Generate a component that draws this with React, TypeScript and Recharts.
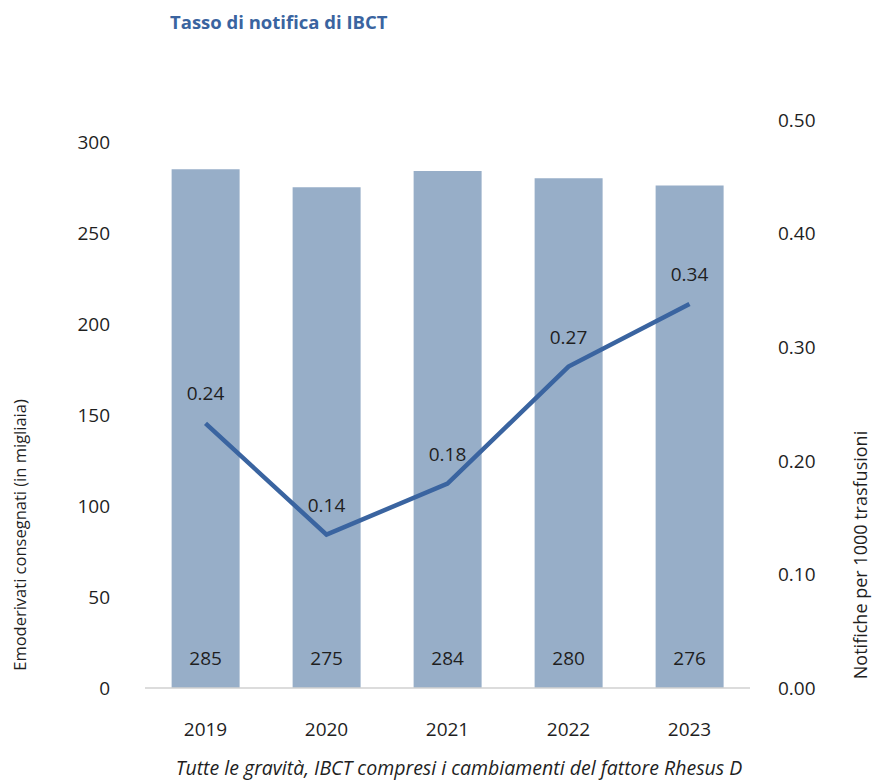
import React from "react";
import { ComposedChart, Bar, Line, XAxis, YAxis, LabelList } from "recharts";

const years = ["2019", "2020", "2021", "2022", "2023"];
const delivered = [285, 275, 284, 280, 276];
// rate as drawn by the line, and the rounded labels shown above it
const rate = [0.233, 0.135, 0.18, 0.283, 0.338];
const rateLabels = ["0.24", "0.14", "0.18", "0.27", "0.34"];
const leftTicks = [0, 50, 100, 150, 200, 250, 300];
const rightTicks = [0, 0.1, 0.2, 0.3, 0.4, 0.5];

const FONT = "'Open Sans', 'DejaVu Sans', sans-serif";
const TEXT = "#1f1f1f";
const BAR = "#97aec8";
const LINE = "#3a64a0";

const data = years.map((y, i) => ({ year: y, delivered: delivered[i], rate: rate[i], rateLabel: rateLabels[i] }));

// eslint-disable-next-line @typescript-eslint/no-explicit-any
function BarValue(props: any) {
  const { x, y, width, height, value } = props;
  return (
    <text x={x + width / 2} y={y + height - 30} textAnchor="middle" dominantBaseline="central" fill={TEXT} fontSize={19} fontFamily={FONT}>
      {value}
    </text>
  );
}

// eslint-disable-next-line @typescript-eslint/no-explicit-any
function RateValue(props: any) {
  const { x, y, value } = props;
  return (
    <text x={x} y={y - 30} textAnchor="middle" dominantBaseline="central" fill={TEXT} fontSize={19} fontFamily={FONT}>
      {value}
    </text>
  );
}

export default function App() {
  const tick = { fill: TEXT, fontSize: 19, fontFamily: FONT };
  return (
    <div style={{ position: "absolute", left: 0, top: 0, width: 872, height: 782, background: "#fff", fontFamily: FONT, overflow: "hidden" }}>
      <div style={{ position: "absolute", left: 170, top: 11, fontSize: 18.5, lineHeight: 1.2, fontWeight: 700, color: LINE, whiteSpace: "nowrap" }}>
        Tasso di notifica di IBCT
      </div>
      <ComposedChart width={872} height={782} data={data} margin={{ top: 120, right: 62, bottom: 34, left: 85 }} barCategoryGap="22%">
        <XAxis
          dataKey="year"
          tickLine={false}
          axisLine={{ stroke: "#d0d0d0", strokeWidth: 1.5 }}
          tick={tick}
          tickMargin={29}
          height={60}
        />
        <YAxis
          yAxisId="left"
          domain={[0, 312]}
          ticks={leftTicks}
          tickLine={false}
          axisLine={false}
          tick={tick}
          tickMargin={29}
          width={60}
        />
        <YAxis
          yAxisId="right"
          orientation="right"
          domain={[0, 0.5]}
          ticks={rightTicks}
          tickFormatter={(v: number) => v.toFixed(2)}
          tickLine={false}
          axisLine={false}
          tick={{ ...tick, textAnchor: "start" }}
          tickMargin={22}
          width={60}
        />
        <Bar yAxisId="left" dataKey="delivered" fill={BAR} isAnimationActive={false}>
          <LabelList dataKey="delivered" content={<BarValue />} />
        </Bar>
        <Line
          yAxisId="right"
          dataKey="rate"
          type="linear"
          stroke={LINE}
          strokeWidth={4.5}
          dot={false}
          activeDot={false}
          isAnimationActive={false}
        >
          <LabelList dataKey="rateLabel" content={<RateValue />} />
        </Line>
      </ComposedChart>
      <div
        style={{
          position: "absolute",
          left: 20,
          top: 535,
          transform: "translate(-50%, -50%) rotate(-90deg)",
          fontSize: 16.5,
          lineHeight: 1.2,
          color: TEXT,
          whiteSpace: "nowrap",
        }}
      >
        Emoderivati consegnati (in migliaia)
      </div>
      <div
        style={{
          position: "absolute",
          left: 861,
          top: 555,
          transform: "translate(-50%, -50%) rotate(-90deg)",
          fontSize: 18,
          lineHeight: 1.2,
          color: TEXT,
          whiteSpace: "nowrap",
        }}
      >
        Notifiche per 1000 trasfusioni
      </div>
      <div
        style={{
          position: "absolute",
          left: 459,
          top: 768,
          transform: "translate(-50%, -50%)",
          fontSize: 19.5,
          lineHeight: 1.1,
          fontStyle: "italic",
          color: TEXT,
          whiteSpace: "nowrap",
        }}
      >
        Tutte le gravità, IBCT compresi i cambiamenti del fattore Rhesus D
      </div>
    </div>
  );
}
